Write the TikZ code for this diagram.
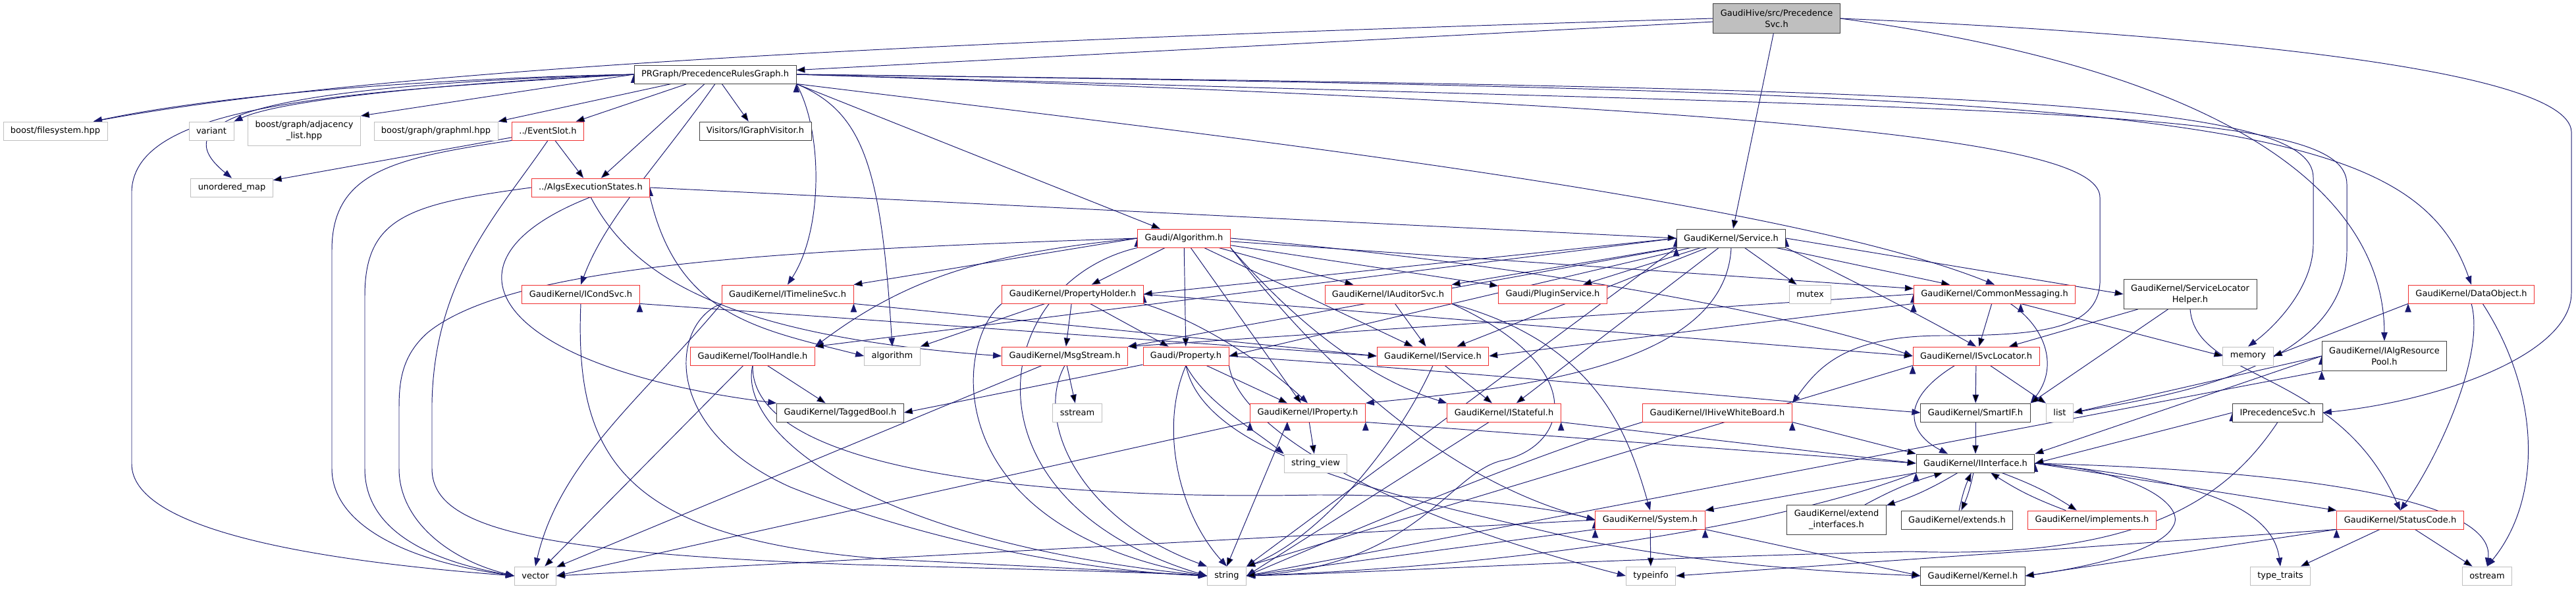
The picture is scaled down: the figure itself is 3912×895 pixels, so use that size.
\documentclass[tikz,border=0pt]{standalone}
\usepackage{fontspec}
\setmainfont{DejaVu Sans}
\usetikzlibrary{arrows.meta,
backgrounds % edges go under the boxes
}
\definecolor{edgeblue}{HTML}{191970}
\definecolor{nodered}{HTML}{F03030}
\definecolor{nodeblack}{HTML}{404040}
\definecolor{nodegray}{HTML}{BFBFBF}

\begin{document}
\begin{tikzpicture}[x=0.02cm, y=0.02cm,
  >={Triangle[length=0.26cm, width=0.19cm]},
  dep/.style={->, draw=edgeblue, line width=0.55pt},
  hdr/.style={rectangle, fill=white, font=\fontsize{7.4}{9.6}\selectfont,
    inner xsep=0.22cm, inner ysep=0pt, minimum height=0.56cm, align=center, line width=0.5pt},
  redbox/.style={hdr, draw=nodered},
  blackbox/.style={hdr, draw=nodeblack},
  graybox/.style={hdr, draw=nodegray},
  rootbox/.style={hdr, draw=nodeblack, fill=nodegray},
  tall/.style={minimum height=0.9cm}]
\useasboundingbox (0,0) rectangle (3912,-895);

  \node[rootbox, tall] (root) at (2698,-28) {GaudiHive/src/Precedence\\Svc.h};
  \node[blackbox] (prg) at (1086,-113) {PRGraph/PrecedenceRulesGraph.h};

  \node[graybox] (bfs) at (84,-199) {boost/filesystem.hpp};
  \node[graybox] (variant) at (321,-199) {variant};
  \node[graybox, tall] (adj) at (462,-199) {boost/graph/adjacency\\\_list.hpp};
  \node[graybox] (graphml) at (662,-199) {boost/graph/graphml.hpp};
  \node[redbox] (evslot) at (832,-199) {../EventSlot.h};
  \node[blackbox] (visitor) at (1147,-199) {Visitors/IGraphVisitor.h};

  \node[graybox] (umap) at (352,-285) {unordered\_map};
  \node[redbox] (aes) at (897,-285) {../AlgsExecutionStates.h};

  \node[redbox] (algo) at (1798,-362) {Gaudi/Algorithm.h};
  \node[blackbox] (service) at (2629,-362) {GaudiKernel/Service.h};

  \node[redbox] (icond) at (882,-447) {GaudiKernel/ICondSvc.h};
  \node[redbox] (itimeline) at (1196,-447) {GaudiKernel/ITimelineSvc.h};
  \node[redbox] (propholder) at (1629,-447) {GaudiKernel/PropertyHolder.h};
  \node[redbox] (iauditor) at (2108,-447) {GaudiKernel/IAuditorSvc.h};
  \node[redbox] (plugin) at (2358,-447) {Gaudi/PluginService.h};
  \node[graybox] (mutex) at (2749,-447) {mutex};
  \node[redbox] (commsg) at (3029,-447) {GaudiKernel/CommonMessaging.h};
  \node[blackbox, tall] (slhelper) at (3326,-447) {GaudiKernel/ServiceLocator\\Helper.h};
  \node[redbox] (dataobj) at (3753,-447) {GaudiKernel/DataObject.h};

  \node[redbox] (toolhandle) at (1143,-541) {GaudiKernel/ToolHandle.h};
  \node[graybox] (algorithm) at (1355,-541) {algorithm};
  \node[redbox] (msgstream) at (1617,-541) {GaudiKernel/MsgStream.h};
  \node[redbox] (property) at (1801,-541) {Gaudi/Property.h};
  \node[redbox] (iservice) at (2176,-541) {GaudiKernel/IService.h};
  \node[redbox] (isvcloc) at (3001,-541) {GaudiKernel/ISvcLocator.h};
  \node[graybox] (memory) at (3414,-541) {memory};
  \node[blackbox, tall] (iresource) at (3621,-541) {GaudiKernel/IAlgResource\\Pool.h};

  \node[blackbox] (taggedbool) at (1276,-627) {GaudiKernel/TaggedBool.h};
  \node[graybox] (sstream) at (1636,-627) {sstream};
  \node[redbox] (iproperty) at (1986,-627) {GaudiKernel/IProperty.h};
  \node[redbox] (istateful) at (2284,-627) {GaudiKernel/IStateful.h};
  \node[redbox] (iwhiteboard) at (2608,-627) {GaudiKernel/IHiveWhiteBoard.h};
  \node[blackbox] (smartif) at (3000,-627) {GaudiKernel/SmartIF.h};
  \node[graybox] (list) at (3128,-627) {list};
  \node[blackbox] (iprecsvc) at (3459,-627) {IPrecedenceSvc.h};

  \node[graybox] (strview) at (1998,-704) {string\_view};
  \node[blackbox] (iinterface) at (3000,-704) {GaudiKernel/IInterface.h};

  \node[redbox] (system) at (2506,-790) {GaudiKernel/System.h};
  \node[blackbox, tall] (extendif) at (2789,-790) {GaudiKernel/extend\\\_interfaces.h};
  \node[blackbox] (extends) at (2972,-790) {GaudiKernel/extends.h};
  \node[redbox] (implements) at (3177,-790) {GaudiKernel/implements.h};
  \node[redbox] (statuscode) at (3645,-790) {GaudiKernel/StatusCode.h};

  \node[graybox] (vector) at (813,-875) {vector};
  \node[graybox] (string) at (1863,-875) {string};
  \node[graybox] (typeinfo) at (2507,-875) {typeinfo};
  \node[blackbox] (kernel) at (2996,-875) {GaudiKernel/Kernel.h};
  \node[graybox] (typetraits) at (3463,-875) {type\_traits};
  \node[graybox] (ostream) at (3777,-875) {ostream};

\begin{pgfonlayer}{background}
  \path[dep] (root) edge (prg) edge (service);
  \draw[dep] (root.west) .. controls (1500,-60) and (600,-100) .. (bfs.14);
  \draw[dep] (root.east) .. controls (3400,-110) and (3620,-300) .. (iresource.north);
  \draw[dep] (root.east) .. controls (3300,-50) and (3900,-100) .. (3905,-200) -- (3905,-445)
    .. controls (3905,-540) and (3700,-610) .. (iprecsvc.east);

  \path[dep] (prg.west) edge (adj.north east);
  \path[dep] (prg) edge (graphml.north east) edge (evslot) edge (visitor) edge (aes);
  \path[dep] (prg.south east) edge (algo);
  \draw[dep] (prg.west) .. controls (700,-118) and (350,-140) .. (bfs.14);
  \draw[dep] (prg.west) .. controls (700,-125) and (430,-150) .. (variant.north east);
  \draw[dep] (prg.west) .. controls (400,-130) and (240,-180) .. (umap.north);
  \draw[dep] (prg.west) .. controls (500,-140) and (205,-160) .. (200,-290) -- (200,-705)
    .. controls (200,-800) and (450,-850) .. (vector.west);
  \draw[dep] (prg.south) .. controls (1000,-250) and (920,-330) .. (icond.north);
  \draw[dep] (prg.south east) .. controls (1250,-200) and (1250,-350) .. (itimeline.north);
  \draw[dep] (prg.south east) .. controls (1310,-170) and (1338,-250) .. (algorithm.north);
  \draw[dep] (prg.south east) .. controls (1800,-200) and (2700,-300) .. (commsg.north);
  \draw[dep] (prg.east) .. controls (3300,-140) and (3660,-170) .. (dataobj.north);
  \draw[dep] (prg.east) .. controls (3000,-135) and (3513,-150) .. (3513,-270) -- (3513,-370)
    .. controls (3513,-440) and (3450,-500) .. (memory.north);
  \draw[dep] (prg.east) .. controls (3100,-170) and (3564,-160) .. (3564,-280) -- (3564,-380)
    .. controls (3564,-560) and (3300,-600) .. (list.east);
  \draw[dep] (prg.east) .. controls (2800,-165) and (3189,-220) .. (3189,-300) -- (3189,-430)
    .. controls (3185,-500) and (3100,-510) .. (2950,-510)
    .. controls (2800,-510) and (2760,-560) .. (iwhiteboard.north east);

  \path[dep] (evslot) edge (umap) edge (aes);
  \draw[dep] (evslot.south west) .. controls (600,-240) and (504,-260) .. (504,-380) -- (504,-712)
    .. controls (504,-790) and (600,-850) .. (vector.west);
  \draw[dep] (evslot.south) .. controls (760,-320) and (660,-420) .. (656,-612) -- (656,-712)
    .. controls (656,-800) and (800,-840) .. (1300,-858)
    .. controls (1600,-866) and (1750,-870) .. (string.west);

  \path[dep] (aes.east) edge (service.west);
  \draw[dep] (aes.west) .. controls (620,-310) and (554,-330) .. (554,-450) -- (554,-712)
    .. controls (554,-800) and (640,-850) .. (vector.west);
  \draw[dep] (aes.south) .. controls (640,-400) and (760,-560) .. (taggedbool.north west);
  \draw[dep] (aes.south) .. controls (960,-420) and (1100,-510) .. (msgstream.west);
  \draw[dep] (aes.south east) .. controls (1030,-480) and (1150,-500) .. (algorithm.west);

  \path[dep] (algo.west) edge (itimeline.north east);
  \path[dep] (algo) edge (propholder) edge (property) edge (iproperty) edge (iservice)
    edge (iauditor) edge (plugin) edge (commsg);
  \draw[dep] (algo.west) .. controls (1200,-380) and (780,-400) .. (650,-505)
    .. controls (610,-540) and (606,-580) .. (606,-620) -- (606,-712)
    .. controls (606,-790) and (680,-850) .. (vector.west);
  \draw[dep] (algo.west) .. controls (1500,-385) and (1380,-420) .. (toolhandle.north east);
  \draw[dep] (algo.south east) .. controls (1950,-470) and (2060,-570) .. (istateful.north west);
  \draw[dep] (algo.east) .. controls (2300,-400) and (2700,-470) .. (isvcloc.west);
  \draw[dep] (algo.south east) .. controls (1950,-480) and (2150,-720) .. (system.west);
  \draw[dep] (algo.south west) .. controls (1500,-430) and (1450,-760) .. (string.west);

  \path[dep] (service.west) edge (propholder.east) edge (toolhandle.north east);
  \path[dep] (service) edge (iauditor.north east) edge (plugin) edge (mutex) edge (commsg)
    edge (iservice) edge (istateful) edge (property.east);
  \path[dep] (service.east) edge (slhelper.west);
  \path[dep] (service.south west) edge (msgstream.north east) edge (string.north east);
  \draw[dep] (service.south) .. controls (2620,-560) and (2300,-590) .. (iproperty.north east);
  \draw[dep] (service.south east) .. controls (2800,-420) and (2900,-470) .. (isvcloc.north);

  \path[dep] (icond.south east) edge (iservice.west);
  \draw[dep] (icond.south) .. controls (872,-700) and (950,-820) .. (1350,-850)
    .. controls (1600,-862) and (1750,-870) .. (string.west);

  \path[dep] (itimeline.south east) edge (iservice.west);
  \draw[dep] (itimeline.south west) .. controls (1020,-490) and (1000,-650) .. (1200,-740)
    .. controls (1450,-840) and (1700,-870) .. (string.west);
  \draw[dep] (itimeline.south west) .. controls (980,-600) and (850,-700) .. (vector.north);

  \path[dep] (propholder) edge (algorithm.north east) edge (msgstream) edge (property);
  \path[dep] (propholder.east) edge (isvcloc.west);
  \draw[dep] (propholder.south east) .. controls (1830,-490) and (1930,-560) .. (iproperty.north);
  \draw[dep] (propholder.south west) .. controls (1450,-520) and (1420,-800) .. (string.west);

  \path[dep] (iauditor) edge (iservice);
  \draw[dep] (iauditor.south east) .. controls (2420,-520) and (2470,-650) .. (system.north);
  \draw[dep] (iauditor.south east) .. controls (2420,-560) and (2380,-680) .. (2280,-700)
    .. controls (2200,-720) and (2150,-860) .. (string.east);

  \path[dep] (commsg.south west) edge (iservice.east);
  \path[dep] (commsg) edge (isvcloc);
  \path[dep] (commsg.340) edge (memory.west);
  \path[dep] (commsg.west) edge (msgstream.north east);
  \draw[dep] (commsg.329) .. controls (3110,-500) and (3125,-560) .. (smartif.north east);

  \path[dep] (slhelper) edge (isvcloc) edge (smartif.north east);
  \draw[dep] (slhelper.south) .. controls (3335,-580) and (3550,-560) .. (statuscode.north);

  \path[dep] (dataobj.south west) edge (memory.east);
  \draw[dep] (dataobj.south) .. controls (3775,-540) and (3700,-700) .. (statuscode.north);
  \draw[dep] (dataobj.320) .. controls (3860,-600) and (3860,-760) .. (ostream.north);

  \path[dep] (toolhandle) edge (taggedbool) edge (vector);
  \draw[dep] (toolhandle.south) .. controls (1120,-650) and (1300,-820) .. (string.west);
  \draw[dep] (toolhandle.south) .. controls (1140,-720) and (1600,-760) .. (2000,-752)
    .. controls (2200,-752) and (2350,-770) .. (system.west);

  \path[dep] (msgstream) edge (sstream) edge (vector);
  \draw[dep] (msgstream.south) .. controls (1570,-640) and (1640,-790) .. (string.north west);

  \path[dep] (property) edge (taggedbool.east) edge (iproperty);
  \draw[dep] (property.south) .. controls (1760,-650) and (1790,-780) .. (string.north);
  \draw[dep] (property.south) .. controls (1830,-610) and (1900,-650) .. (strview.north west);
  \draw[dep] (property.east) .. controls (2300,-570) and (2700,-610) .. (smartif.west);
  \draw[dep] (property.south east) .. controls (1880,-650) and (2100,-780) .. (typeinfo.west);
  \draw[dep] (property.south) .. controls (1830,-700) and (2150,-760) .. (2400,-820)
    .. controls (2600,-860) and (2800,-870) .. (kernel.west);

  \path[dep] (iservice) edge (istateful);
  \draw[dep] (iservice.south) .. controls (2120,-680) and (2000,-820) .. (string.north east);

  \path[dep] (isvcloc) edge (smartif) edge (list);
  \path[dep] (isvcloc.south west) edge (string.north east);
  \draw[dep] (isvcloc.204) .. controls (2880,-610) and (2900,-660) .. (iinterface.161);

  \path[dep] (iresource.west) edge (list.east) edge (iinterface.north east);
  \path[dep] (iresource.south west) edge (string.east);

  \path[dep] (iproperty.south east) edge (iinterface.west);
  \path[dep] (iproperty) edge (strview);
  \path[dep] (iproperty.205) edge (string.north);
  \path[dep] (iproperty.south west) edge (vector.east);

  \path[dep] (istateful.south east) edge (iinterface.west);
  \path[dep] (istateful) edge (string.east);

  \path[dep] (iwhiteboard.south east) edge (iinterface.north west);
  \draw[dep] (iwhiteboard.south west) .. controls (2300,-700) and (2000,-830) .. (string.east);

  \path[dep] (smartif) edge (iinterface);

  \path[dep] (iprecsvc.west) edge (iinterface.east);
  \draw[dep] (iprecsvc.south) .. controls (3380,-760) and (3250,-850) .. (2900,-838)
    .. controls (2400,-850) and (2100,-870) .. (string.east);

  \path[dep] (iinterface) edge[bend left=6] (extendif) edge[bend left=6] (extends)
    edge[bend left=6] (implements);
  \path[dep] (extendif) edge[bend left=6] (iinterface);
  \path[dep] (extends) edge[bend left=6] (iinterface);
  \path[dep] (implements) edge[bend left=6] (iinterface);
  \path[dep] (iinterface.south west) edge (system.north east);
  \path[dep] (iinterface.east) edge (statuscode.north west);
  \draw[dep] (iinterface.east) .. controls (3500,-715) and (3790,-760) .. (ostream.north);
  \draw[dep] (iinterface.east) .. controls (3300,-725) and (3450,-760) .. (typetraits.north);
  \draw[dep] (iinterface.east) .. controls (3250,-715) and (3320,-770) .. (3300,-800)
    .. controls (3280,-840) and (3150,-865) .. (kernel.east);
  \draw[dep] (iinterface.south west) .. controls (2700,-800) and (2300,-860) .. (string.east);

  \path[dep] (system.south east) edge (kernel.west);
  \path[dep] (system) edge (typeinfo);
  \path[dep] (system.south west) edge (string.east);
  \path[dep] (system.west) edge (vector.east);

  \path[dep] (statuscode.south west) edge (kernel.east) edge (typeinfo.east);
  \path[dep] (statuscode) edge (typetraits) edge (ostream);
\end{pgfonlayer}
\end{tikzpicture}
\end{document}
